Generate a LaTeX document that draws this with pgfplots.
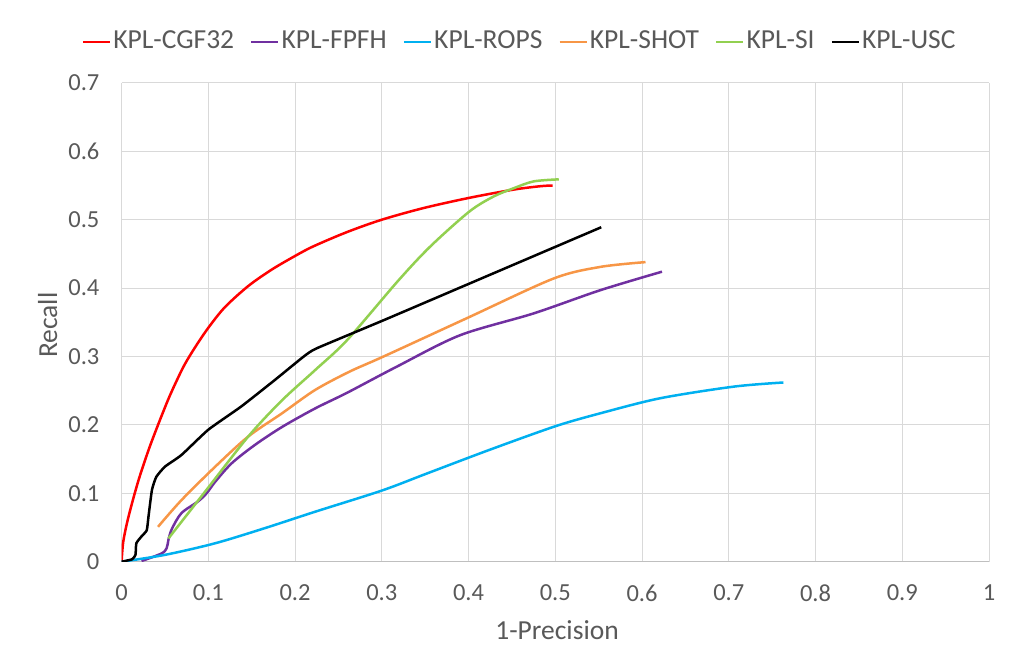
\documentclass[border=0pt]{standalone}
\usepackage{fontspec}
\setmainfont{Carlito}
\usepackage{pgfplots}
\pgfplotsset{compat=1.18}

\definecolor{txt}{HTML}{595959}
\definecolor{gridc}{HTML}{D9D9D9}
\definecolor{axisc}{HTML}{BFBFBF}
\definecolor{cgf}{HTML}{FF0000}
\definecolor{fpfh}{HTML}{7030A0}
\definecolor{rops}{HTML}{00B0F0}
\definecolor{shot}{HTML}{F79646}
\definecolor{si}{HTML}{92D050}

\begin{document}
\fontsize{27.5}{33}\selectfont
\begin{tikzpicture}
\begin{axis}[
  at={(0,0)}, anchor=south west,
  scale only axis,
  width=867.4pt, height=478.8pt,
  xmin=0, xmax=1, ymin=0, ymax=0.7,
  xtick={0,0.1,...,1.01}, ytick={0,0.1,...,0.71},
  /pgf/number format/assume math mode=true,
  axis x line=bottom, axis y line=left,
  x axis line style={draw=axisc, line width=1pt, -},
  y axis line style={draw=none},
  major tick length=0pt,
  tick style={draw=none},
  grid=major,
  major grid style={draw=gridc, line width=1pt},
  ticklabel style={text=txt, font=\fontsize{24.5}{29}\selectfont, inner sep=0pt},
  xticklabel shift=23pt,
  yticklabel shift=22pt,
  xlabel={1-Precision}, ylabel={Recall},
  label style={text=txt},
  xlabel style={at={(axis description cs:0.502,-0.1426)}, anchor=center},
  ylabel style={at={(axis description cs:-0.0853,0.494)}, anchor=center},
  legend columns=6,
  legend style={draw=none, fill=none, at={(axis description cs:-0.046,1.0856)},
    anchor=west, inner sep=0pt, text=txt,
    /tikz/every even column/.append style={column sep=14pt},
    nodes={inner sep=2pt}},
  legend image code/.code={\draw[#1] (0pt,0pt) -- (27pt,0pt);},
  every axis plot/.append style={line width=2.5pt, smooth, tension=0.5},
]
\addplot[cgf] coordinates {
(0,0) (0.002,0.030) (0.008,0.066) (0.019,0.117) (0.031,0.163) (0.042,0.200)
(0.054,0.238) (0.064,0.266) (0.073,0.289) (0.085,0.314) (0.100,0.342)
(0.119,0.372) (0.146,0.403) (0.173,0.427) (0.200,0.447) (0.221,0.461)
(0.260,0.482) (0.300,0.500) (0.348,0.517) (0.401,0.532) (0.452,0.544)
(0.483,0.549) (0.497,0.550)
};
\addlegendentry{KPL-CGF32}
\addplot[fpfh] coordinates {
(0.023,0.001) (0.046,0.012) (0.052,0.020) (0.054,0.032) (0.058,0.048)
(0.069,0.071) (0.088,0.088) (0.098,0.100) (0.108,0.117) (0.127,0.144)
(0.154,0.171) (0.185,0.197) (0.223,0.224) (0.260,0.247) (0.317,0.285)
(0.390,0.331) (0.475,0.363) (0.552,0.397) (0.623,0.424)
};
\addlegendentry{KPL-FPFH}
\addplot[rops] coordinates {
(0,0) (0.050,0.010) (0.108,0.027) (0.165,0.049) (0.223,0.073)
(0.3,0.104) (0.35,0.128) (0.423,0.163) (0.500,0.198)
(0.552,0.217) (0.621,0.239) (0.706,0.256) (0.763,0.262)
};
\addlegendentry{KPL-ROPS}
\addplot[shot] coordinates {
(0.042,0.051) (0.069,0.090) (0.108,0.139) (0.146,0.183) (0.185,0.217)
(0.223,0.251) (0.263,0.278) (0.302,0.300) (0.398,0.356) (0.498,0.414)
(0.552,0.431) (0.604,0.438)
};
\addlegendentry{KPL-SHOT}
\addplot[si] coordinates {
(0.054,0.034) (0.096,0.102) (0.146,0.183) (0.185,0.236) (0.223,0.280)
(0.260,0.324) (0.319,0.411) (0.356,0.461) (0.401,0.512) (0.429,0.534)
(0.452,0.546) (0.475,0.556) (0.504,0.559)
};
\addlegendentry{KPL-SI}
\addplot[black, tension=0.3] coordinates {
(0,0) (0.012,0.0035) (0.016,0.010) (0.017,0.027) (0.023,0.037)
(0.029,0.046) (0.031,0.066) (0.035,0.105) (0.040,0.124) (0.050,0.139)
(0.069,0.156) (0.100,0.193) (0.138,0.227) (0.177,0.266) (0.210,0.300)
(0.225,0.312) (0.302,0.353) (0.398,0.405) (0.553,0.489)
};
\addlegendentry{KPL-USC}
\end{axis}
\path[use as bounding box] (-121.6pt,-92.3pt) rectangle (888.4pt,561.7pt);
\end{tikzpicture}
\end{document}
